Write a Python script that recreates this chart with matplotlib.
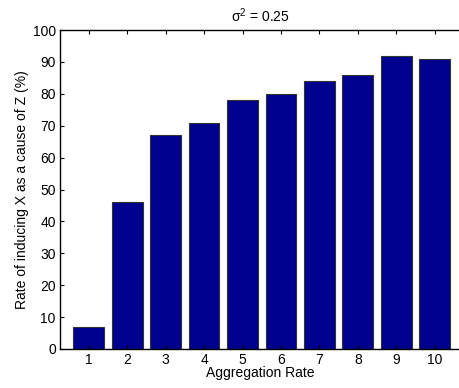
import matplotlib
matplotlib.use("Agg")
import matplotlib.pyplot as plt

categories = [1, 2, 3, 4, 5, 6, 7, 8, 9, 10]
values = [7, 46, 67, 71, 78, 80, 84, 86, 92, 91]
yticks = [0, 10, 20, 30, 40, 50, 60, 70, 80, 90, 100]

plt.rcParams['font.family'] = ['Liberation Sans', 'DejaVu Sans']
plt.rcParams['font.size'] = 10

fig = plt.figure(figsize=(4.6, 3.88), dpi=100)
ax = fig.add_axes([60/460, 1 - 349/388, 1 - 60/460, (349 - 30)/388])
ax.bar(categories, values, width=0.8, color='#00008F', edgecolor='#333333', linewidth=0.8)
ax.set_xlim(0.25, 10.66)
ax.set_ylim(0, 100)
ax.set_xticks(categories)
ax.set_yticks(yticks)
ax.tick_params(direction='in', top=True, right=False, length=3, width=0.8, labelsize=10, pad=3)
for s in ['left', 'bottom', 'top']:
    ax.spines[s].set_linewidth(1.0)
ax.spines['right'].set_visible(False)
ax.set_xlabel('Aggregation Rate', fontsize=10, labelpad=-1)
ax.set_ylabel('Rate of inducing X as a cause of Z (%)', fontsize=10, labelpad=3)
ax.set_title('σ$^{\\mathregular{2}}$ = 0.25', fontsize=10, pad=6)
fig.savefig('out.png', dpi=100)
